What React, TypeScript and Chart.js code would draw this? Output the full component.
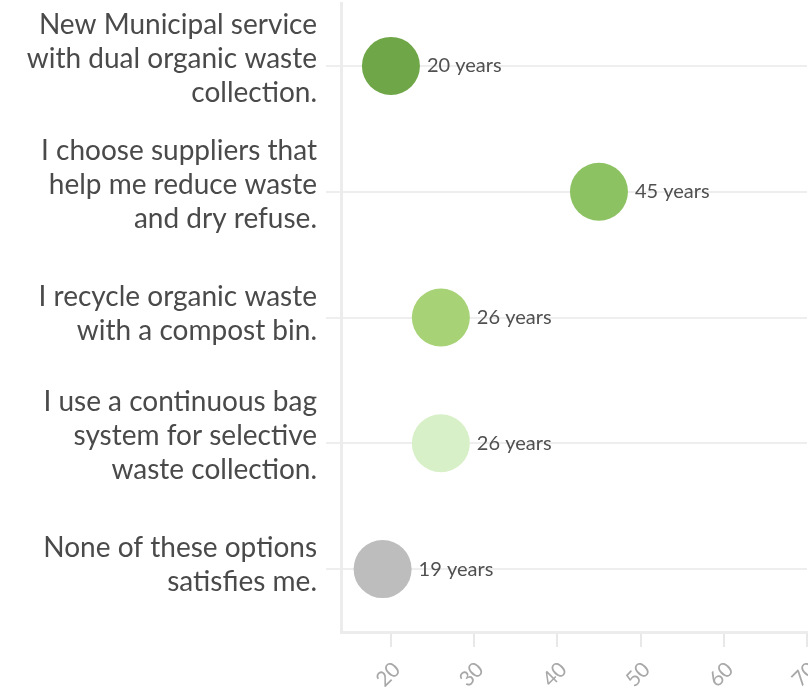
import React, { useEffect, useRef } from "react";
import { Chart, registerables } from "chart.js";

Chart.register(...registerables);

const categories: string[][] = [
  ["New Municipal service", "with dual organic waste", "collection."],
  ["I choose suppliers that", "help me reduce waste", "and dry refuse."],
  ["I recycle organic waste", "with a compost bin."],
  ["I use a continuous bag", "system for selective", "waste collection."],
  ["None of these options", "satisfies me."],
];
const ages: number[] = [20, 45, 26, 26, 19];
const bubbleColors: string[] = ["#6fa647", "#8dc263", "#a7d276", "#d8f0c8", "#bdbdbd"];
const xTicks: number[] = [20, 30, 40, 50, 60, 70];
const unit = "years";

const W = 808;
const H = 700;
const R = 29;
const AXIS_LEFT = 341;
const AXIS_BOTTOM = 632;

export default function App() {
  const ref = useRef<HTMLCanvasElement | null>(null);
  useEffect(() => {
    if (!ref.current) return;
    const labelPlugin = {
      id: "customLabels",
      afterDraw(chart: any) {
        const ctx = chart.ctx;
        const meta = chart.getDatasetMeta(0);
        const xs = chart.scales.x;
        const ys = chart.scales.y;
        ctx.save();
        // value labels
        ctx.font = "20px Lato";
        ctx.fillStyle = "#505050";
        ctx.textBaseline = "middle";
        ctx.textAlign = "left";
        meta.data.forEach((pt: any, i: number) => {
          ctx.fillText(`${ages[i]} ${unit}`, pt.x + R + 7, pt.y);
        });
        // category labels
        ctx.font = "28px Lato";
        ctx.fillStyle = "#4a4a4a";
        ctx.textAlign = "right";
        ctx.textBaseline = "middle";
        const lh = 34;
        categories.forEach((lines, i) => {
          const cy = ys.getPixelForValue(i) - (lines.length > 2 ? 7 : 4);
          const start = cy - ((lines.length - 1) * lh) / 2;
          lines.forEach((ln, j) => ctx.fillText(ln, ys.right - 24, start + j * lh));
        });
        // x tick labels
        ctx.font = "21px Lato";
        ctx.fillStyle = "#a8a8a8";
        xTicks.forEach((v) => {
          const px = xs.getPixelForValue(v);
          ctx.save();
          ctx.translate(px + 6, xs.top + 34);
          ctx.rotate(-Math.PI / 4);
          ctx.textAlign = "right";
          ctx.textBaseline = "middle";
          ctx.fillText(String(v), 0, 0);
          ctx.restore();
        });
        ctx.restore();
      },
    };
    const chart = new Chart(ref.current, {
      type: "scatter",
      data: {
        labels: categories as any,
        datasets: [
          {
            data: ages.map((v, i) => ({ x: v, y: i })),
            backgroundColor: bubbleColors,
            borderWidth: 0,
            pointRadius: R,
            pointHoverRadius: R,
          },
        ],
      },
      options: {
        animation: false,
        responsive: false,
        events: [],
        layout: { autoPadding: false, padding: { top: 3, right: 1, left: 0, bottom: 0 } },
        plugins: { legend: { display: false }, tooltip: { enabled: false } },
        scales: {
          x: {
            type: "linear",
            min: 14,
            max: 70,
            afterBuildTicks: (scale: any) => {
              scale.ticks = xTicks.map((v) => ({ value: v }));
            },
            afterFit: (scale: any) => {
              scale.height = H - AXIS_BOTTOM;
            },
            grid: { drawOnChartArea: false, drawTicks: true, tickLength: 15, color: "#e8e8e8", lineWidth: 2 },
            border: { display: true, color: "#ececec", width: 3 },
            ticks: { display: false },
          },
          y: {
            type: "category",
            labels: categories as any,
            offset: true,
            afterFit: (scale: any) => {
              scale.width = AXIS_LEFT;
            },
            grid: { color: "#eeeeee", lineWidth: 2, tickLength: 15, drawTicks: true },
            border: { display: true, color: "#ececec", width: 3 },
            ticks: { display: false },
          },
        },
      },
      plugins: [labelPlugin],
    } as any);
    return () => chart.destroy();
  }, []);
  return (
    <div style={{ position: "fixed", left: 0, top: 0, width: W, height: H, overflow: "hidden", background: "#fff" }}>
      <canvas ref={ref} width={W} height={H} style={{ width: W, height: H, display: "block" }} />
    </div>
  );
}
